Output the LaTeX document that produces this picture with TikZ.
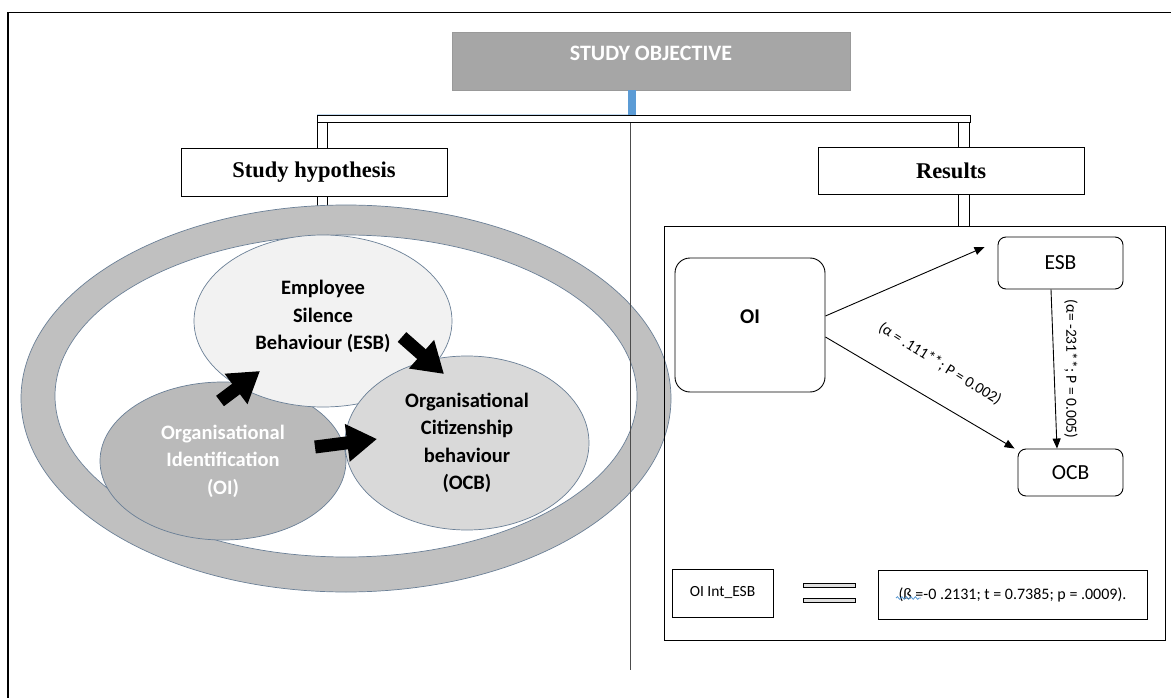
\documentclass[tikz,border=0pt]{standalone}
\usepackage{fontspec}
\newfontfamily\calfont{Carlito}
\newfontfamily\timesfont{Liberation Serif}
\usetikzlibrary{positioning, arrows.meta, shapes.geometric, decorations.pathmorphing}

\definecolor{objgray}{HTML}{A6A6A6}
\definecolor{ringgray}{HTML}{C0C0C0}
\definecolor{oigray}{HTML}{BABABA}
\definecolor{esbfill}{HTML}{F2F2F2}
\definecolor{ocbfill}{HTML}{D9D9D9}
\definecolor{edgeblue}{HTML}{6A7F96}
\definecolor{barblue}{HTML}{5B9BD5}

\begin{document}
\begin{tikzpicture}[
  x=1pt, y=-1pt,
  font=\calfont,
  headbox/.style={draw, line width=0.9pt, fill=white, minimum width=266pt, minimum height=48pt,
    font=\timesfont\bfseries\fontsize{22.5}{26}\selectfont},
  bubble/.style={ellipse, draw=edgeblue, line width=0.7pt, inner sep=0pt, align=center,
    font=\calfont\bfseries\fontsize{20.5}{27.5}\selectfont},
  rbox/.style={draw, line width=0.9pt, rounded corners=8pt, fill=white, inner sep=0pt,
    font=\calfont\fontsize{21.5}{24}\selectfont},
  sbox/.style={draw, line width=0.9pt, fill=white, inner sep=0pt, font=\calfont\fontsize{15.5}{18}\selectfont},
  dbl/.style={double, double distance=9pt, line width=0.9pt},
  blk/.style={line width=13pt, -{Triangle[length=30pt, width=36pt]}},
  arr/.style={-{Triangle[length=10pt, width=8pt]}, line width=0.9pt},
  lbl/.style={font=\calfont\fontsize{15.5}{18}\selectfont, inner sep=0pt},
]
\useasboundingbox (0,0) rectangle (1171,698);

% --- frame ---
\draw[line width=1.3pt] (8,698) -- (8,12.5) -- (1171,12.5);

% --- objective and branches ---
\node[draw=gray!80, fill=objgray, minimum width=398pt, minimum height=58pt, text=white,
  text depth=16pt, font=\calfont\bfseries\fontsize{22}{26}\selectfont] (obj) at (651,61) {STUDY OBJECTIVE};
\draw[barblue!35, line width=1.2pt] (317,114.5) -- (628,114.5);
\node[draw, line width=1pt, fill=white, minimum width=653pt, minimum height=7pt, inner sep=0pt]
  (bar) at (643.5,119.5) {};
\draw[barblue, line width=8pt] ([xshift=-19pt]obj.south) -- ([xshift=-19pt]obj.south |- bar.north);

\coordinate (hypdrop) at (322.5,215);
\coordinate (resdrop) at (964,226);
\draw[dbl] (hypdrop |- bar.south) -- (hypdrop);
\draw[dbl, double distance=10pt] (resdrop |- bar.south) -- (resdrop);

\node[headbox] (hyp) at (314,172) {Study hypothesis};
\node[headbox, minimum height=47pt] (res) at (951,170.5) {Results};

% --- hypothesis ring ---
\node[ellipse, inner sep=0pt, fill=ringgray, draw=edgeblue, line width=0.7pt,
  minimum width=650pt, minimum height=387pt] (ring) at (346,398.5) {};
\node[ellipse, inner sep=0pt, fill=white, draw=edgeblue, line width=0.7pt,
  minimum width=582pt, minimum height=322pt] (ringin) at (346,396) {};

\node[bubble, fill=oigray, text=white, minimum width=246pt, minimum height=158pt]
  (oi) at (223,461) {Organisational\\Identification\\(OI)};
\node[bubble, fill=esbfill, minimum width=258pt, minimum height=172pt, text depth=12pt]
  (esb) at (323,321) {Employee\\Silence\\Behaviour (ESB)};
\node[bubble, fill=ocbfill, minimum width=244pt, minimum height=174pt]
  (ocb) at (467,443) {Organisational\\Citizenship\\behaviour\\(OCB)};

% block arrows between the bubbles
\coordinate (oiesb-s) at (220,401);  \coordinate (oiesb-e) at (260,371);
\coordinate (esbocb-s) at (402,337); \coordinate (esbocb-e) at (444,374);
\coordinate (oiocb-s) at (315,447);  \coordinate (oiocb-e) at (377,439);
\draw[blk] (oiesb-s) -- (oiesb-e);
\draw[blk] (esbocb-s) -- (esbocb-e);
\draw[blk] (oiocb-s) -- (oiocb-e);

\coordinate (cend) at (630,670);
\draw[gray!60!black, line width=0.8pt] ([xshift=-13.5pt]bar.south) -- (cend);

% --- results panel ---
\node[draw, line width=0.9pt, minimum width=501pt, minimum height=414pt, inner sep=0pt]
  (panel) at (914.5,433) {};
\node[rbox, rounded corners=15pt, minimum width=150pt, minimum height=134pt, text depth=16pt,
  font=\calfont\bfseries\fontsize{21}{24}\selectfont] (roi) at (750,325) {OI};
\node[rbox, minimum width=125pt, minimum height=52pt] (resb) at (1060.5,263) {ESB};
\node[rbox, minimum width=105pt, minimum height=47pt] (rocb) at (1070.5,472.5) {OCB};

\draw[arr] ([yshift=9pt]roi.east) -- ([xshift=-13pt,yshift=16pt]resb.west);
\draw[arr] ([yshift=-12pt]roi.east) -- ([xshift=-3pt]rocb.north west);
\draw[arr] ([xshift=-9.5pt]resb.south) -- ([xshift=-13.5pt]rocb.north);
\node[lbl, rotate=-32] (lab1) at (940,364) {(α = .111**; P = 0.002)};
\node[lbl, rotate=-90] (lab2) at (1071,369) {(α= -231**; P = 0.005)};

% interaction line
\node[sbox, minimum width=101pt, minimum height=48pt] (inter) at (722.5,593) {OI Int\_ESB};
\node[draw, line width=0.9pt, fill=gray!25, minimum width=52pt, minimum height=4pt, inner sep=0pt]
  (eqa) at (829,585) {};
\node[draw, line width=0.9pt, fill=gray!25, minimum width=52pt, minimum height=4pt, inner sep=0pt]
  (eqb) at (829,600) {};
\node[sbox, minimum width=269pt, minimum height=49pt, font=\calfont\fontsize{16}{18}\selectfont]
  (beta) at (1012.5,594.5) {(ß =-0 .2131; t = 0.7385; p = .0009).};
\draw[barblue, line width=0.8pt, decorate, decoration={snake, amplitude=1.3pt, segment length=4.5pt}]
  (896,598) -- (921,598);

\end{tikzpicture}
\end{document}
